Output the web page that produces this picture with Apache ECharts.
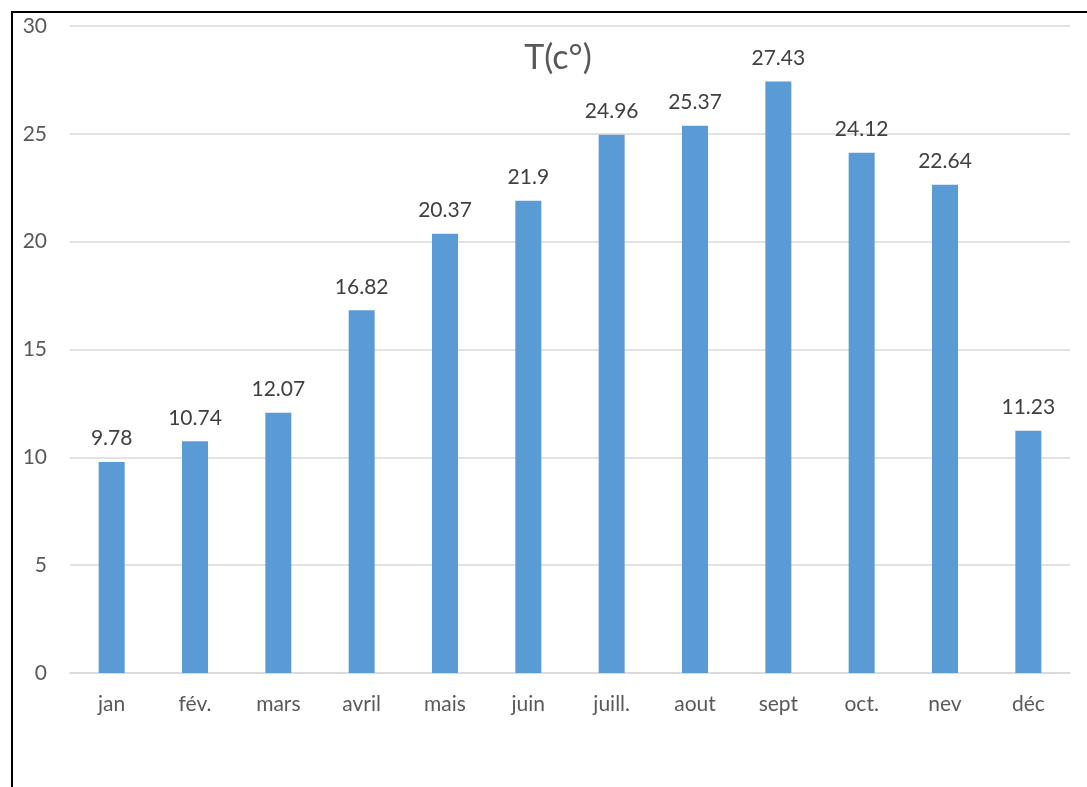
<!DOCTYPE html>
<html>
<head>
<meta charset="utf-8">
<script src="https://cdn.jsdelivr.net/npm/echarts@6/dist/echarts.min.js"></script>
<style>
  html, body { margin: 0; padding: 0; background: #fff; }
  #chart { width: 1087px; height: 787px; }
</style>
</head>
<body>
<div id="chart"></div>
<script>
// mois et températures moyennes
const months = ['jan', 'fév.', 'mars', 'avril', 'mais', 'juin', 'juill.', 'aout', 'sept', 'oct.', 'nev', 'déc']
const temps = [9.78, 10.74, 12.07, 16.82, 20.37, 21.9, 24.96, 25.37, 27.43, 24.12, 22.64, 11.23]
const title = 'T(c°)'

const font = 'Lato, "Open Sans", sans-serif'
const chart = echarts.init(document.getElementById('chart'))

const option = {
  backgroundColor: '#fff',
  animation: false,
  title: {
    text: title,
    left: 553,
    top: 36,
    textAlign: 'center',
    textStyle: { fontFamily: font, fontSize: 34, fontWeight: 'normal', color: '#595959' }
  },
  grid: {
    left: 70,
    right: 17,
    top: 26,
    bottom: 114
  },
  xAxis: {
    type: 'category',
    data: months,
    axisLine: { lineStyle: { color: '#d9d9d9', width: 1.5 } },
    axisTick: { show: false },
    axisLabel: { fontFamily: font, fontSize: 21, color: '#595959', margin: 21 }
  },
  yAxis: {
    type: 'value',
    min: 0,
    max: 30,
    interval: 5,
    axisLine: { show: false },
    axisTick: { show: false },
    splitLine: { lineStyle: { color: '#d9d9d9', width: 1.5 } },
    axisLabel: { fontFamily: font, fontSize: 21, color: '#595959', margin: 23 }
  },
  series: [
    {
      type: 'bar',
      data: temps,
      barWidth: 26,
      itemStyle: { color: '#5b9bd5' },
      label: {
        show: true,
        position: 'top',
        distance: 13,
        fontFamily: font,
        fontSize: 21,
        color: '#404040'
      }
    }
  ],
  // cadre noir (haut et gauche)
  graphic: [
    { type: 'line', shape: { x1: 11, y1: 12, x2: 1087, y2: 12 }, style: { stroke: '#000', lineWidth: 2 } },
    { type: 'line', shape: { x1: 12, y1: 11, x2: 12, y2: 787 }, style: { stroke: '#000', lineWidth: 2 } }
  ]
}

chart.setOption(option)
</script>
</body>
</html>
